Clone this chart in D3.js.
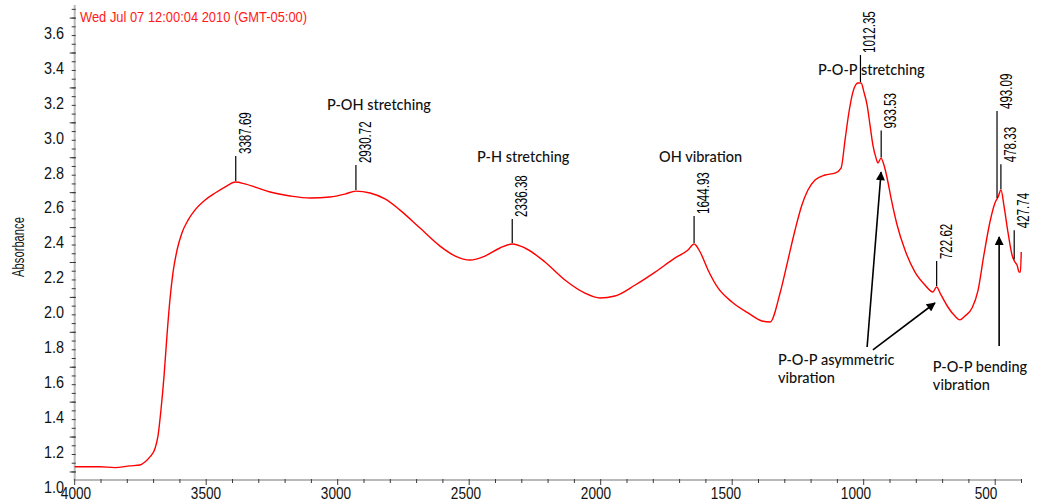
<!DOCTYPE html>
<html>
<head>
<meta charset="utf-8">
<script src="https://cdn.jsdelivr.net/npm/d3@7"></script>
<style>
  html, body { margin: 0; padding: 0; background: #fff; }
  svg { display: block; }
</style>
</head>
<body>
<svg id="chart" width="1039" height="504"></svg>
<script>
// ---- spectrum data -------------------------------------------------------
const stamp = "Wed Jul 07 12:00:04 2010 (GMT-05:00)";
const yTitle = "Absorbance";

const wavenumber = [
  4000, 3904, 3847, 3790, 3752, 3733, 3714, 3694, 3683, 3672,
  3660, 3649, 3638, 3626, 3611, 3592, 3569, 3543, 3504, 3466,
  3429, 3388, 3353, 3314, 3257, 3181, 3105, 3029, 2972, 2931,
  2877, 2820, 2763, 2687, 2611, 2553, 2497, 2440, 2383, 2336,
  2288, 2212, 2136, 2060, 2003, 1946, 1869, 1793, 1717, 1668,
  1645, 1622, 1592, 1554, 1501, 1440, 1387, 1356, 1318, 1288,
  1261, 1235, 1212, 1185, 1147, 1109, 1086, 1071, 1056, 1041,
  1022, 1010, 999, 987, 976, 965, 953, 946, 934, 923,
  911, 896, 873, 843, 805, 767, 737, 723, 706, 680,
  653, 634, 615, 588, 565, 543, 520, 501, 489, 478,
  466, 451, 436, 425, 417, 409, 404, 401
];
const absorbance = [
  1.030, 1.030, 1.025, 1.035, 1.040, 1.057, 1.086, 1.137, 1.210, 1.355,
  1.556, 1.785, 1.985, 2.145, 2.270, 2.370, 2.443, 2.500, 2.558, 2.598,
  2.632, 2.661, 2.650, 2.632, 2.604, 2.581, 2.569, 2.575, 2.592, 2.609,
  2.598, 2.564, 2.500, 2.397, 2.294, 2.237, 2.214, 2.237, 2.283, 2.306,
  2.283, 2.203, 2.100, 2.025, 1.997, 2.008, 2.071, 2.145, 2.226, 2.271,
  2.306, 2.260, 2.157, 2.054, 1.974, 1.911, 1.865, 1.859, 2.025, 2.214,
  2.386, 2.529, 2.615, 2.672, 2.701, 2.712, 2.741, 2.901, 3.062, 3.176,
  3.228, 3.228, 3.176, 3.102, 2.987, 2.873, 2.798, 2.770, 2.798, 2.758,
  2.684, 2.569, 2.415, 2.271, 2.145, 2.071, 2.031, 2.060, 2.014, 1.945,
  1.893, 1.871, 1.893, 1.939, 2.042, 2.243, 2.432, 2.541, 2.575, 2.615,
  2.518, 2.369, 2.243, 2.203, 2.186, 2.145, 2.145, 2.260
];

// labelled peaks
const peakWn   = [3387.69, 2930.72, 2336.38, 1644.93, 1012.35, 933.53, 722.62, 493.09, 478.33, 427.74];
const peakText = ["3387.69", "2930.72", "2336.38", "1644.93", "1012.35", "933.53", "722.62", "493.09", "478.33", "427.74"];
const peakLead = [25, 25, 24, 27, 27, 27, 25, 87, 25, 29];   // leader length, px

// axis ticks
const yTickValues = [1.0, 1.2, 1.4, 1.6, 1.8, 2.0, 2.2, 2.4, 2.6, 2.8, 3.0, 3.2, 3.4, 3.6];
const xTickValues = [4000, 3500, 3000, 2500, 2000, 1500, 1000, 500];

// band assignments
const noteLines = [["P-OH stretching"], ["P-H stretching"], ["OH vibration"], ["P-O-P stretching"],
                   ["P-O-P asymmetric", "vibration"], ["P-O-P bending", "vibration"]];
const noteWn  = [3041, 2470, 1778, 1174, 1326, 737];
const noteAbs = [3.073, 2.776, 2.776, 3.274, 1.613, 1.573];

// arrows from the assignment labels to their bands
const arrowFromWn  = [987, 965, 485];
const arrowFromAbs = [1.716, 1.699, 1.722];
const arrowToWn    = [934, 729, 485];
const arrowToAbs   = [2.718, 1.968, 2.346];

// ---- drawing -------------------------------------------------------------
const svg = d3.select("#chart");

const x = d3.scaleLinear().domain([4000, 400]).range([74.7, 1021.5]);
const y = d3.scaleLinear().domain([0.954, 3.675]).range([480, 5]);
// tick captions sit on a slightly narrower grid than the tick marks
const xCaption = d3.scaleLinear().domain([4000, 500]).range([76, 986]);

// compress text horizontally (narrow instrument font)
function squeeze(sel, k) {
  sel.each(function () {
    const w = this.getComputedTextLength();
    this.setAttribute("textLength", w * k);
    this.setAttribute("lengthAdjust", "spacingAndGlyphs");
  });
}

const axisColor = "#b9b9b9";
const tickColor = "#3a3a3a";
const numFont = "'Liberation Sans', Arial, sans-serif";

// y axis
const yAx = svg.append("g");
yAx.append("line")
  .attr("x1", x(4000)).attr("x2", x(4000))
  .attr("y1", y.range()[1]).attr("y2", y.range()[0])
  .attr("stroke", axisColor).attr("stroke-width", 2);
const yMinor = d3.range(0, 54).map(i => 1.0 + i * 0.05).filter(v => v < 3.675);
yAx.selectAll("line.minor").data(yMinor).join("line")
  .attr("class", "minor")
  .attr("x1", x(4000) - 3).attr("x2", x(4000) + 1)
  .attr("y1", d => y(d)).attr("y2", d => y(d))
  .attr("stroke", tickColor).attr("stroke-width", 1);
yAx.selectAll("line.major").data(yTickValues).join("line")
  .attr("class", "major")
  .attr("x1", x(4000) - 5).attr("x2", x(4000) + 1)
  .attr("y1", d => y(d)).attr("y2", d => y(d))
  .attr("stroke", tickColor).attr("stroke-width", 1);
yAx.selectAll("text").data(yTickValues).join("text")
  .attr("x", 64).attr("y", d => y(d) + 15)
  .attr("dy", "0.36em")
  .attr("text-anchor", "end")
  .attr("font-family", numFont).attr("font-size", 16)
  .attr("fill", "#111")
  .text(d => d.toFixed(1))
  .call(squeeze, 0.9);

// x axis
const xAx = svg.append("g");
xAx.append("line")
  .attr("x1", x(4000) - 1).attr("x2", x(400))
  .attr("y1", y(0.954)).attr("y2", y(0.954))
  .attr("stroke", axisColor).attr("stroke-width", 2);
const xMinor = d3.range(4000, 399, -100);
xAx.selectAll("line.tick").data(xMinor).join("line")
  .attr("class", "tick")
  .attr("x1", d => x(d)).attr("x2", d => x(d))
  .attr("y1", y(0.954) - 1).attr("y2", d => y(0.954) + (d % 500 === 0 ? 5 : 3))
  .attr("stroke", tickColor).attr("stroke-width", 1);
xAx.selectAll("text").data(xTickValues).join("text")
  .attr("x", d => xCaption(d)).attr("y", 493)
  .attr("dy", "0.36em")
  .attr("text-anchor", "middle")
  .attr("font-family", numFont).attr("font-size", 16)
  .attr("fill", "#111")
  .text(d => d)
  .call(squeeze, 0.85);

// axis title
svg.append("text")
  .attr("transform", "translate(18,247) rotate(-90)")
  .attr("text-anchor", "middle").attr("dy", "0.36em")
  .attr("font-family", numFont).attr("font-size", 16)
  .attr("fill", "#111")
  .text(yTitle)
  .call(squeeze, 0.7);

// time stamp
svg.append("text")
  .attr("x", 80).attr("y", 22)
  .attr("font-family", numFont).attr("font-size", 15)
  .attr("fill", "#ff1a1a")
  .text(stamp)
  .call(squeeze, 0.86);

// spectrum
const spectrum = wavenumber.map((w, i) => ({ w, a: absorbance[i] }));
svg.append("path")
  .datum(spectrum)
  .attr("fill", "none")
  .attr("stroke", "#ff0000")
  .attr("stroke-width", 1.4)
  .attr("stroke-linejoin", "round")
  .attr("d", d3.line().x(d => x(d.w)).y(d => y(d.a)).curve(d3.curveMonotoneX));

// absorbance on the curve at a given wavenumber
const interp = w => {
  for (let i = 1; i < spectrum.length; i++) {
    const p = spectrum[i - 1], q = spectrum[i];
    if (w <= p.w && w >= q.w) {
      const t = (p.w - w) / (p.w - q.w);
      return p.a + t * (q.a - p.a);
    }
  }
  return spectrum[spectrum.length - 1].a;
};

// peak markers
const peaks = svg.append("g");
peakWn.forEach((w, i) => {
  const px = x(w), py = y(interp(w)) - 1;
  const top = py - peakLead[i];
  peaks.append("line")
    .attr("x1", px).attr("x2", px)
    .attr("y1", py).attr("y2", top)
    .attr("stroke", "#000").attr("stroke-width", 1.2);
  peaks.append("text")
    .attr("transform", `translate(${px + 15},${top - 2}) rotate(-90)`)
    .attr("font-family", numFont).attr("font-size", 17)
    .attr("fill", "#000")
    .text(peakText[i])
    .call(squeeze, 0.68);
});

// band assignments
const notes = svg.append("g");
noteLines.forEach((lines, i) => {
  const t = notes.append("text")
    .attr("x", x(noteWn[i])).attr("y", y(noteAbs[i]))
    .attr("font-family", "Lato, 'Open Sans', sans-serif")
    .attr("font-size", 14.5)
    .attr("font-weight", 500)
    .attr("fill", "#111");
  lines.forEach((s, j) => {
    t.append("tspan")
      .attr("x", x(noteWn[i]))
      .attr("dy", j === 0 ? 0 : 18.5)
      .text(s);
  });
});

// arrows
const defs = svg.append("defs");
defs.append("marker")
  .attr("id", "head")
  .attr("viewBox", "0 0 10 10")
  .attr("refX", 9).attr("refY", 5)
  .attr("markerWidth", 11).attr("markerHeight", 9)
  .attr("markerUnits", "userSpaceOnUse")
  .attr("orient", "auto")
  .append("path").attr("d", "M0,0L10,5L0,10z").attr("fill", "#000");

arrowFromWn.forEach((w, i) => {
  svg.append("line")
    .attr("x1", x(w)).attr("y1", y(arrowFromAbs[i]))
    .attr("x2", x(arrowToWn[i])).attr("y2", y(arrowToAbs[i]))
    .attr("stroke", "#000").attr("stroke-width", 1.6)
    .attr("marker-end", "url(#head)");
});
</script>
</body>
</html>
